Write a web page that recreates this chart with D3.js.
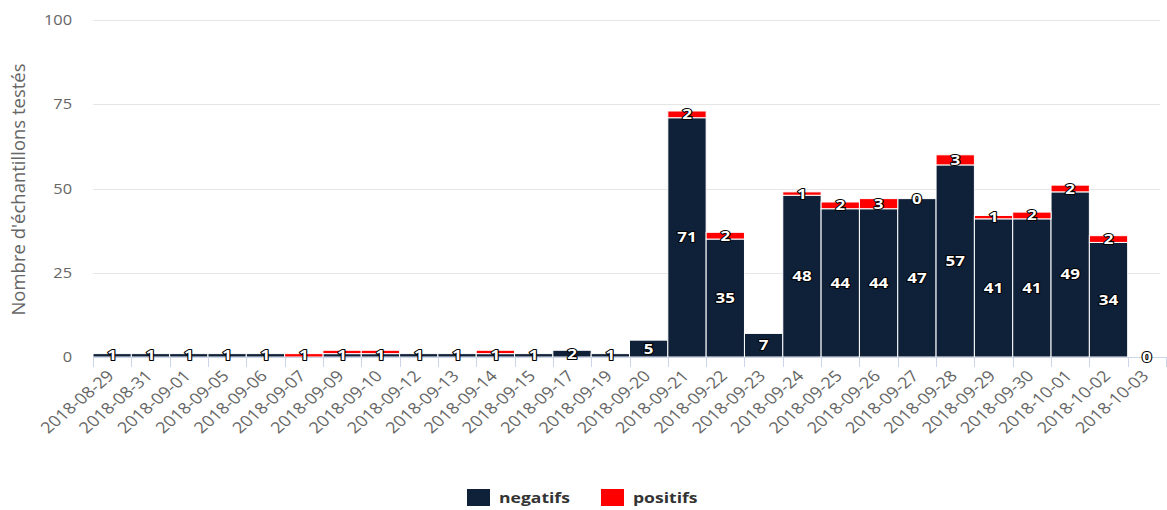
<!DOCTYPE html>
<html>
<head>
<meta charset="utf-8">
<script src="https://cdn.jsdelivr.net/npm/d3@7"></script>
<style>
  body { margin: 0; background: #fff; }
  svg { font-family: "Open Sans", sans-serif; }
</style>
</head>
<body>
<div id="chart"></div>
<script>
var width = 1167
var height = 510

var dates = ["2018-08-29", "2018-08-31", "2018-09-01", "2018-09-05", "2018-09-06", "2018-09-07",
    "2018-09-09", "2018-09-10", "2018-09-12", "2018-09-13", "2018-09-14", "2018-09-15",
    "2018-09-17", "2018-09-19", "2018-09-20", "2018-09-21", "2018-09-22", "2018-09-23",
    "2018-09-24", "2018-09-25", "2018-09-26", "2018-09-27", "2018-09-28", "2018-09-29",
    "2018-09-30", "2018-10-01", "2018-10-02", "2018-10-03"];
var negatifs = [1, 1, 1, 1, 1, 0, 1, 1, 1, 1, 1, 1, 2, 1, 5, 71, 35, 7, 48, 44, 44, 47, 57, 41, 41, 49, 34, 0];
var positifs = [0, 0, 0, 0, 0, 1, 1, 1, 0, 0, 1, 0, 0, 0, 0, 2, 2, 0, 1, 2, 3, 0, 3, 1, 2, 2, 2, 0];
var yTicks = [0, 25, 50, 75, 100];

var navy = "#0f2039";
var red = "#ff0000";
// the picture is a bit wider than tall, text gets the same stretch
var sx = 1.17;

var margin = { left: 93, right: 1, top: 20, bottom: 153 };

var svg = d3.select("#chart")
    .append("svg")
    .attr("width", width)
    .attr("height", height);

var x = d3.scaleBand()
    .domain(dates)
    .range([margin.left, width - margin.right])
    .padding(0);

var y = d3.scaleLinear()
    .domain([0, 100])
    .range([height - margin.bottom, margin.top]);

// gridlines
svg.append("g")
    .selectAll("line")
    .data(yTicks)
    .enter()
    .append("line")
    .attr("x1", margin.left)
    .attr("x2", width - margin.right - 6)
    .attr("y1", function(d) { return Math.round(y(d)) + 0.5; })
    .attr("y2", function(d) { return Math.round(y(d)) + 0.5; })
    .attr("stroke", "#e6e6e6")
    .attr("stroke-width", 1);

// y tick labels
svg.append("g")
    .selectAll("text")
    .data(yTicks)
    .enter()
    .append("text")
    .attr("transform", function(d) { return "translate(72," + (y(d) + 5) + ") scale(" + sx + ",1)"; })
    .attr("text-anchor", "end")
    .attr("font-size", 14)
    .attr("fill", "#666")
    .text(function(d) { return d; });

// y title
svg.append("text")
    .attr("transform", "translate(25," + (y(50) + 1) + ") rotate(-90)")
    .attr("text-anchor", "middle")
    .attr("font-size", 18.5)
    .attr("fill", "#666")
    .text("Nombre d'échantillons testés");

var rows = dates.map(function(d, i) {
    return { date: d, neg: negatifs[i], pos: positifs[i] };
});

// bars
var bars = svg.append("g");
bars.selectAll("rect.neg")
    .data(rows)
    .enter()
    .append("rect")
    .attr("class", "neg")
    .attr("x", function(d) { return x(d.date); })
    .attr("width", x.bandwidth())
    .attr("y", function(d) { return y(d.neg); })
    .attr("height", function(d) { return y(0) - y(d.neg); })
    .attr("fill", navy)
    .attr("stroke", "#fff")
    .attr("stroke-width", 1);

bars.selectAll("rect.pos")
    .data(rows)
    .enter()
    .append("rect")
    .attr("class", "pos")
    .attr("x", function(d) { return x(d.date); })
    .attr("width", x.bandwidth())
    .attr("y", function(d) { return y(d.neg + d.pos); })
    .attr("height", function(d) { return y(d.neg) - y(d.neg + d.pos); })
    .attr("fill", red)
    .attr("stroke", "#fff")
    .attr("stroke-width", 1);

// x axis line + ticks
var xAxis = svg.append("g");
xAxis.append("line")
    .attr("x1", margin.left)
    .attr("x2", width - margin.right)
    .attr("y1", y(0) + 0.5)
    .attr("y2", y(0) + 0.5)
    .attr("stroke", "#ccd6eb");

xAxis.selectAll("line.tick")
    .data(dates.concat(["end"]))
    .enter()
    .append("line")
    .attr("class", "tick")
    .attr("x1", function(d) { return Math.round(d == "end" ? x.range()[1] : x(d)) + 0.5; })
    .attr("x2", function(d) { return Math.round(d == "end" ? x.range()[1] : x(d)) + 0.5; })
    .attr("y1", y(0))
    .attr("y2", y(0) + 10)
    .attr("stroke", "#ccd6eb");

xAxis.selectAll("text")
    .data(dates)
    .enter()
    .append("text")
    .attr("transform", function(d) {
        return "translate(" + (x(d) + x.bandwidth() / 2 + 3) + "," + (y(0) + 20) + ") scale(" + sx + ",1) rotate(-45)";
    })
    .attr("text-anchor", "end")
    .attr("font-size", 15.5)
    .attr("fill", "#666")
    .text(function(d) { return d; });

// data labels: centred in each segment, overlapping pairs keep the bigger value
var labels = [];
rows.forEach(function(d) {
    var cx = x(d.date) + x.bandwidth() / 2;
    var ny = (y(0) + y(d.neg)) / 2;
    var py = (y(d.neg) + y(d.neg + d.pos)) / 2;
    if (Math.abs(ny - py) < 16) {
        if (d.pos > d.neg) labels.push({ x: cx, y: py, v: d.pos });
        else labels.push({ x: cx, y: ny, v: d.neg });
    } else {
        labels.push({ x: cx, y: ny, v: d.neg });
        labels.push({ x: cx, y: py, v: d.pos });
    }
});

svg.append("g")
    .selectAll("text")
    .data(labels)
    .enter()
    .append("text")
    .attr("transform", function(d) { return "translate(" + d.x + "," + (d.y + 5) + ") scale(" + sx + ",1)"; })
    .attr("text-anchor", "middle")
    .attr("font-size", 14.5)
    .attr("font-weight", "bold")
    .attr("fill", "#fff")
    .attr("stroke", "#000")
    .attr("stroke-width", 2)
    .attr("stroke-linejoin", "round")
    .attr("paint-order", "stroke")
    .text(function(d) { return d.v; });

// legend
var legendItems = [
    { name: "negatifs", color: navy, x: 467 },
    { name: "positifs", color: red, x: 601 }
];
var legend = svg.append("g");
legend.selectAll("rect")
    .data(legendItems)
    .enter()
    .append("rect")
    .attr("x", function(d) { return d.x; })
    .attr("y", 489)
    .attr("width", 23)
    .attr("height", 17)
    .attr("fill", function(d) { return d.color; });

legend.selectAll("text")
    .data(legendItems)
    .enter()
    .append("text")
    .attr("transform", function(d) { return "translate(" + (d.x + 32) + ",503) scale(" + sx + ",1)"; })
    .attr("font-size", 15)
    .attr("font-weight", "bold")
    .attr("fill", "#333")
    .text(function(d) { return d.name; });
</script>
</body>
</html>
